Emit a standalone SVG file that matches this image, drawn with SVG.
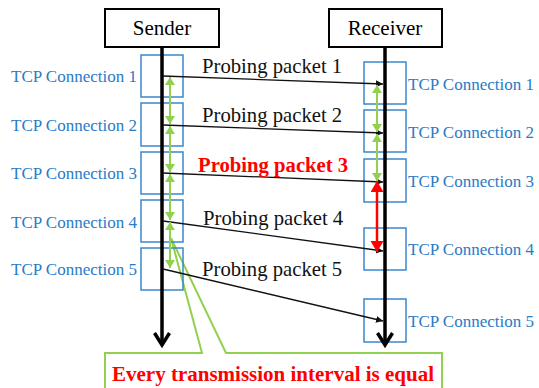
<svg xmlns="http://www.w3.org/2000/svg" width="539" height="388" viewBox="0 0 539 388">
<style>
text{font-family:"Liberation Serif","Times New Roman",serif}
.hdr{font-size:21px;fill:#000;text-anchor:middle}
.tcp{font-size:17px;fill:#2a7bc6}
.tcpl{text-anchor:end}
.pk{font-size:20.7px;fill:#111}
.pkr{font-size:20.7px;fill:#ff0000;font-weight:bold}
.box{fill:none;stroke:#3a87cf;stroke-width:1.5}
.hbox{fill:#fff;stroke:#000;stroke-width:2}
.life{stroke:#000;stroke-width:3.5;fill:none}
.chev{stroke:#000;stroke-width:3.5;fill:none;stroke-linejoin:miter}
.pkt{stroke:#111;stroke-width:1.3;fill:none;marker-end:url(#ah)}
.g{stroke:#92d050;stroke-width:2;fill:none;marker-start:url(#gh);marker-end:url(#gh)}
.r{stroke:#ff0000;stroke-width:2.5;fill:none;marker-start:url(#rh);marker-end:url(#rh)}
</style>
<defs>
<marker id="ah" markerWidth="8" markerHeight="8" refX="7" refY="3.5" orient="auto" markerUnits="userSpaceOnUse">
<path d="M0,0 L7,3.5 L0,7 z" fill="#111"/>
</marker>
<marker id="gh" markerWidth="11" markerHeight="10" refX="8" refY="5" orient="auto-start-reverse" markerUnits="userSpaceOnUse">
<path d="M0,0 L8,5 L0,10 z" fill="#92d050"/>
</marker>
<marker id="rh" markerWidth="13" markerHeight="14" refX="11" refY="6.5" orient="auto-start-reverse" markerUnits="userSpaceOnUse">
<path d="M0,0 L11,6.5 L0,13 z" fill="#ff0000"/>
</marker>
</defs>

<g id="callout">
<path d="M105,353 L202,353 L171,238 L226,353 L442,353 L442,392 L105,392 Z" fill="#fff" stroke="#92d050" stroke-width="2"/>
<text x="273" y="381" class="pkr" style="font-size:21px" text-anchor="middle">Every transmission interval is equal</text>
</g>

<g id="sender">
<rect class="hbox" x="105" y="9" width="114" height="38"/>
<text class="hdr" x="162" y="35">Sender</text>
</g>
<g id="receiver">
<rect class="hbox" x="329" y="9" width="113" height="38"/>
<text class="hdr" x="385" y="35">Receiver</text>
</g>

<g id="sender-connections">
<rect class="box" x="141" y="55" width="42" height="42"/>
<rect class="box" x="141" y="103" width="42" height="43"/>
<rect class="box" x="141" y="152" width="42" height="42"/>
<rect class="box" x="141" y="200" width="42" height="42"/>
<rect class="box" x="141" y="248" width="42" height="42"/>
<text class="tcp tcpl" x="137" y="82">TCP Connection 1</text>
<text class="tcp tcpl" x="137" y="131">TCP Connection 2</text>
<text class="tcp tcpl" x="137" y="179">TCP Connection 3</text>
<text class="tcp tcpl" x="137" y="228">TCP Connection 4</text>
<text class="tcp tcpl" x="137" y="275">TCP Connection 5</text>
</g>

<g id="receiver-connections">
<rect class="box" x="364" y="62" width="42" height="42"/>
<rect class="box" x="364" y="110" width="42" height="42"/>
<rect class="box" x="364" y="159" width="42" height="43"/>
<rect class="box" x="364" y="228" width="42" height="42"/>
<rect class="box" x="364" y="299" width="42" height="43"/>
<text class="tcp" x="408" y="90">TCP Connection 1</text>
<text class="tcp" x="408" y="138">TCP Connection 2</text>
<text class="tcp" x="408" y="187">TCP Connection 3</text>
<text class="tcp" x="408" y="255">TCP Connection 4</text>
<text class="tcp" x="408" y="327">TCP Connection 5</text>
</g>

<g id="connectors">
<line class="life" x1="162" y1="47" x2="162" y2="345"/>
<path class="chev" d="M154.5,333 L162,345 L169.5,333"/>
<line class="life" x1="385" y1="47" x2="385" y2="345"/>
<path class="chev" d="M377.5,333 L385,345 L392.5,333"/>

<line class="pkt" x1="163" y1="76" x2="383" y2="84"/>
<line class="pkt" x1="163" y1="125" x2="383" y2="133"/>
<line class="pkt" x1="163" y1="173" x2="383" y2="182"/>
<line class="pkt" x1="163" y1="221" x2="383" y2="251"/>
<line class="pkt" x1="163" y1="269" x2="383" y2="321"/>

<line class="g" x1="170" y1="77" x2="170" y2="124"/>
<line class="g" x1="170" y1="126" x2="170" y2="172"/>
<line class="g" x1="170" y1="174" x2="170" y2="220"/>
<line class="g" x1="170" y1="222" x2="170" y2="268"/>

<line class="g" x1="377" y1="85" x2="377" y2="132"/>
<line class="g" x1="377" y1="134" x2="377" y2="181"/>
<line class="r" x1="377" y1="181" x2="377" y2="252"/>
</g>

<g id="packet-labels">
<text class="pk" x="202" y="73">Probing packet 1</text>
<text class="pk" x="202" y="122">Probing packet 2</text>
<text class="pkr" x="198" y="172">Probing packet 3</text>
<text class="pk" x="203" y="225">Probing packet 4</text>
<text class="pk" x="202" y="276">Probing packet 5</text>
</g>
</svg>
